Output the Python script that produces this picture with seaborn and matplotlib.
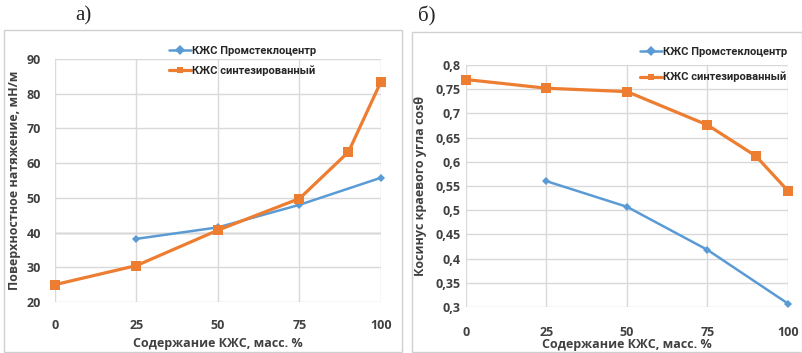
import matplotlib
matplotlib.use("Agg")
import matplotlib.pyplot as plt
import seaborn as sns
import pandas as pd
from matplotlib.patches import Rectangle

# panel a) surface tension, mN/m
x_prom = [25, 50, 75, 100]
st_prom = [38.2, 41.5, 48.0, 55.8]
x_sint = [0, 25, 50, 75, 90, 100]
st_sint = [25.0, 30.5, 40.7, 49.8, 63.2, 83.5]

# panel б) cos of contact angle
cos_prom = [0.56, 0.507, 0.418, 0.307]
cos_sint = [0.77, 0.752, 0.745, 0.676, 0.612, 0.54]

x_ticks = [0, 25, 50, 75, 100]
st_ticks = [20, 30, 40, 50, 60, 70, 80, 90]
cos_ticks = [0.3, 0.35, 0.4, 0.45, 0.5, 0.55, 0.6, 0.65, 0.7, 0.75, 0.8]
cos_labels = ["0,3", "0,35", "0,4", "0,45", "0,5", "0,55", "0,6", "0,65", "0,7", "0,75", "0,8"]

name_prom = "КЖС Промстеклоцентр"
name_sint = "КЖС синтезированный"
xlabel = "Содержание КЖС, масс. %"

BLUE = "#5b9bd5"
ORANGE = "#ed7d31"
GRID = "#d9d9d9"
TXT = "#404040"

sns.set_style("white")
plt.rcParams["font.family"] = ["Open Sans", "DejaVu Sans"]

W, H = 803, 353
fig = plt.figure(figsize=(W / 100, H / 100), dpi=100)


def px_axes(x0, y0, x1, y1):
    return fig.add_axes([x0 / W, 1 - y1 / H, (x1 - x0) / W, (y1 - y0) / H])


# panel frames
for (x0, y0, x1, y1) in [(4, 30, 402, 352), (412, 32, 802, 352)]:
    fig.patches.append(Rectangle((x0 / W, 1 - y1 / H), (x1 - x0) / W, (y1 - y0) / H,
                                 transform=fig.transFigure, fill=False,
                                 edgecolor="#d0d0d0", linewidth=1))


def draw(ax, ys_prom, ys_sint):
    df_p = pd.DataFrame({"x": x_prom, "y": ys_prom})
    df_s = pd.DataFrame({"x": x_sint, "y": ys_sint})
    sns.lineplot(data=df_p, x="x", y="y", ax=ax, color=BLUE, linewidth=1.8,
                 marker="D", markersize=4.5, markeredgewidth=0, label=name_prom,
                 clip_on=False)
    sns.lineplot(data=df_s, x="x", y="y", ax=ax, color=ORANGE, linewidth=2.3,
                 marker="s", markersize=7.5, markeredgewidth=0, label=name_sint,
                 clip_on=False)
    for s in ax.spines.values():
        s.set_visible(False)
    ax.grid(True, color=GRID, linewidth=1)
    ax.set_axisbelow(True)
    ax.set_xlim(0, 100)
    ax.set_xticks(x_ticks)
    ax.tick_params(length=0, labelsize=9, colors=TXT)
    for t in ax.get_xticklabels() + ax.get_yticklabels():
        t.set_fontweight("bold")
    ax.set_xlabel(xlabel, fontsize=9, color=TXT, fontweight="bold")


def legend(ax, anchor, spacing):
    leg = ax.legend(loc="upper left", bbox_to_anchor=anchor, frameon=False,
                    prop={"family": ["Roboto", "DejaVu Sans"], "size": 8, "weight": "bold"},
                    borderpad=0, borderaxespad=0,
                    handlelength=2.0, handletextpad=0.1, labelspacing=spacing)
    for t in leg.get_texts():
        t.set_color("#262626")
    for h in leg.legend_handles:
        h.set_markersize(5)


# a)
ax1 = px_axes(55, 59, 381, 302)
draw(ax1, st_prom, st_sint)
ax1.set_ylim(20, 90)
ax1.set_yticks(st_ticks)
ax1.axhline(40, color="#a6a6a6", linewidth=1, zorder=0.5)
ax1.tick_params(axis="x", pad=12)
ax1.tick_params(axis="y", pad=10)
ax1.set_ylabel("Поверхностное натяжение, мН/м", fontsize=9, color=TXT, fontweight="bold")
ax1.xaxis.labelpad = 4
legend(ax1, (0.35, 1.055), 0.9)

# б)
ax2 = px_axes(466, 65, 788, 307)
draw(ax2, cos_prom, cos_sint)
ax2.set_ylim(0.3, 0.8)
ax2.set_yticks(cos_ticks)
ax2.set_yticklabels(cos_labels)
for t in ax2.get_yticklabels():
    t.set_fontweight("bold")
ax2.tick_params(axis="x", pad=14)
ax2.tick_params(axis="y", pad=4)
ax2.set_ylabel("Косинус краевого угла cosθ", fontsize=9, color=TXT, fontweight="bold")
ax2.yaxis.labelpad = 6
ax2.xaxis.labelpad = -1
legend(ax2, (0.54, 1.073), 1.3)

fig.text(75 / W, 1 - 16 / H, "а)", family=["Liberation Serif", "DejaVu Serif"],
         fontsize=15, ha="left", va="center")
fig.text(418 / W, 1 - 16 / H, "б)", family=["Liberation Serif", "DejaVu Serif"],
         fontsize=15, ha="left", va="center")

fig.savefig("out.png", dpi=100)
